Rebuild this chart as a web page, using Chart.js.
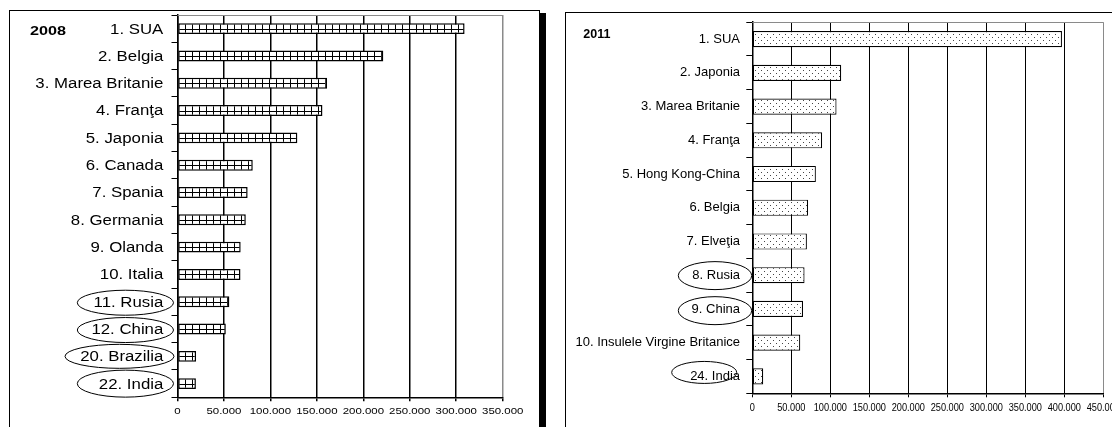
<!DOCTYPE html>
<html><head><meta charset="utf-8">
<script src="https://cdn.jsdelivr.net/npm/chart.js@4.4.1/dist/chart.umd.min.js"></script>
<style>
html,body{margin:0;padding:0;background:#fff;overflow:hidden;width:1112px;height:427px;}
.frame{position:absolute;border:1px solid #000;background:#fff;}
#f1{left:9px;top:10px;width:529px;height:440px;box-shadow:6px 3px 0 #000;}
#f2{left:565px;top:12px;width:580px;height:440px;}
canvas{position:absolute;}
</style></head><body>
<div class="frame" id="f1"></div>
<div class="frame" id="f2"></div>
<canvas id="c1" width="528" height="416" style="left:10px;top:11px"></canvas>
<canvas id="c2" width="546" height="414" style="left:566px;top:13px"></canvas>
<script>
// ---------- DATA ----------
const categories2008 = ['1. SUA','2. Belgia','3. Marea Britanie','4. Franţa','5. Japonia','6. Canada','7. Spania','8. Germania','9. Olanda','10. Italia','11. Rusia','12. China','20. Brazilia','22. India'];
const values2008 = [309000,221500,161000,156000,129000,81000,75500,73500,68000,67800,55800,52000,20000,19800];
const circled2008 = ['11. Rusia','12. China','20. Brazilia','22. India'];
const tickValues2008 = [0,50000,100000,150000,200000,250000,300000,350000];
const tickLabels2008 = ['0','50.000','100.000','150.000','200.000','250.000','300.000','350.000'];

const categories2011 = ['1. SUA','2. Japonia','3. Marea Britanie','4. Franţa','5. Hong Kong-China','6. Belgia','7. Elveţia','8. Rusia','9. China','10. Insulele Virgine Britanice','24. India'];
const values2011 = [397000,114000,108000,89500,81500,71500,70000,67000,65000,61500,14000];
const circled2011 = ['8. Rusia','9. China','24. India'];
const tickValues2011 = [0,50000,100000,150000,200000,250000,300000,350000,400000,450000];
const tickLabels2011 = ['0','50.000','100.000','150.000','200.000','250.000','300.000','350.000','400.000','450.000'];

// ---------- helpers ----------
function stretchText(c, text, x, y, align, sx){
  c.save(); c.translate(x, y); c.scale(sx, 1); c.textAlign = align; c.fillText(text, 0, 0); c.restore();
}
function gridPatternFor(chart, cy){
  const t = document.createElement('canvas'); t.width = 7; t.height = 40;
  const g = t.getContext('2d');
  g.fillStyle = '#fff'; g.fillRect(0,0,7,40);
  g.fillStyle = '#000'; g.fillRect(0,0,1,40); g.fillRect(0,0,7,1);
  const p = chart.ctx.createPattern(t, 'repeat');
  p.setTransform(new DOMMatrix([1,0,0,1,0,Math.round(cy)]));
  return p;
}
function dotPattern(chart){
  const t = document.createElement('canvas'); t.width = 6; t.height = 6;
  const g = t.getContext('2d');
  g.fillStyle = '#fff'; g.fillRect(0,0,6,6);
  g.fillStyle = '#444'; g.fillRect(0,0,1,1); g.fillRect(3,3,1,1);
  return chart.ctx.createPattern(t, 'repeat');
}

const textPlugin = {
  id: 'texts',
  beforeDatasetsDraw(chart){
    const a = chart.chartArea, c = chart.ctx;
    c.save(); c.strokeStyle = '#8a8a8a'; c.lineWidth = 1;
    c.beginPath(); c.moveTo(a.left, Math.round(a.top)+0.5); c.lineTo(a.right, Math.round(a.top)+0.5); c.stroke();
    c.restore();
  },
  afterDraw(chart, args, o){
    const c = chart.ctx, xs = chart.scales.x, ys = chart.scales.y;
    const labels = chart.data.labels;
    c.save(); c.fillStyle = '#000'; c.textBaseline = 'middle';
    c.font = o.labelFont;
    labels.forEach((lab, i) => {
      stretchText(c, lab, chart.chartArea.left - o.labelGap, ys.getPixelForValue(i) + o.labelDy, 'right', o.sx);
    });
    c.font = o.tickFont;
    o.tickValues.forEach((v, i) => {
      stretchText(c, o.tickLabels[i], xs.getPixelForValue(v), chart.chartArea.bottom + o.tickDy, 'center', o.tickSx);
    });
    c.font = o.titleFont;
    stretchText(c, o.title, o.titleX, o.titleY, 'left', o.titleSx);
    c.strokeStyle = '#000'; c.lineWidth = 1;
    o.ellipses.forEach(e => {
      const i = labels.indexOf(e.label);
      const cy = ys.getPixelForValue(i) + e.dy;
      const x1 = chart.chartArea.left + e.x1, x2 = chart.chartArea.left + e.x2;
      c.beginPath(); c.ellipse((x1+x2)/2, cy, (x2-x1)/2, e.h/2, 0, 0, Math.PI*2); c.stroke();
    });
    c.restore();
  }
};

function makeChart(id, labels, values, cfg){
  const el = document.getElementById(id);
  const W = el.width, H = el.height, axisH = 25;
  return new Chart(el, {
    type: 'bar',
    data: { labels: labels, datasets: [{
      data: values,
      backgroundColor: cfg.fill,
      borderColor: '#000', borderWidth: cfg.barBorder, borderSkipped: false,
      categoryPercentage: 1, barPercentage: cfg.barPct
    }]},
    options: {
      indexAxis: 'y', responsive: false, maintainAspectRatio: false, animation: false, events: [],
      layout: { padding: { left: 0, top: cfg.area.top, right: W - cfg.area.right, bottom: H - cfg.area.bottom - axisH } },
      plugins: { legend: { display: false }, tooltip: { enabled: false }, texts: cfg.texts },
      scales: {
        x: { type: 'linear', min: 0, max: cfg.max, position: 'bottom',
             ticks: { display: false, stepSize: cfg.step },
             grid: { color: (ctx) => (ctx.tick && ctx.tick.value === cfg.max) ? '#8a8a8a' : '#000',
                     lineWidth: cfg.gridW, drawTicks: true, tickLength: 4, tickColor: '#000' },
             border: { display: true, color: '#000', width: cfg.axisW },
             afterFit: (s) => { s.height = axisH; } },
        y: { type: 'category', offset: true,
             ticks: { display: false },
             grid: { drawOnChartArea: false, drawTicks: true, tickLength: 6, color: '#000', lineWidth: 1, offset: true },
             border: { display: true, color: '#000', width: cfg.axisW },
             afterFit: (s) => { s.width = cfg.area.left; } }
      }
    },
    plugins: [textPlugin]
  });
}

const FONT = '"Liberation Sans", Arial, sans-serif';

makeChart('c1', categories2008, values2008, {
  area: { left: 167.5, right: 492.7, top: 4, bottom: 386.3 },
  max: 350000, step: 50000, barPct: 0.4, barBorder: 1.5, gridW: 1.5, axisW: 1.5,
  fill: (ctx) => gridPatternFor(ctx.chart, ctx.chart.scales.y.getPixelForValue(ctx.dataIndex)),
  texts: {
    labelFont: '14px ' + FONT, sx: 1.2, labelGap: 14.2, labelDy: 1,
    tickFont: '9.3px ' + FONT, tickSx: 1.23, tickDy: 14.4,
    tickValues: tickValues2008, tickLabels: tickLabels2008,
    title: '2008', titleFont: 'bold 13.5px ' + FONT, titleX: 20, titleY: 20, titleSx: 1.2,
    ellipses: [
      { label: circled2008[0], x1: -100.2, x2: -4, dy: 1, h: 25 },
      { label: circled2008[1], x1: -100.2, x2: -4, dy: 1, h: 25 },
      { label: circled2008[2], x1: -112.5, x2: -3.5, dy: 0, h: 24 },
      { label: circled2008[3], x1: -100.2, x2: -4, dy: 0, h: 27 }
    ]
  }
});

makeChart('c2', categories2011, values2011, {
  area: { left: 186.3, right: 537.3, top: 9.2, bottom: 380.3 },
  max: 450000, step: 50000, barPct: 0.48, barBorder: 1.2, gridW: 1, axisW: 1.5,
  fill: (ctx) => dotPattern(ctx.chart),
  texts: {
    labelFont: '13px ' + FONT, sx: 1.0, labelGap: 12.3, labelDy: 0,
    tickFont: '10px ' + FONT, tickSx: 0.92, tickDy: 15,
    tickValues: tickValues2011, tickLabels: tickLabels2011,
    title: '2011', titleFont: 'bold 12.5px ' + FONT, titleX: 17.3, titleY: 21.7, titleSx: 1.0,
    ellipses: [
      { label: circled2011[0], x1: -74, x2: -0.6, dy: 0.4, h: 28 },
      { label: circled2011[1], x1: -74, x2: -0.6, dy: 1.7, h: 28 },
      { label: circled2011[2], x1: -80.6, x2: -15.6, dy: -4, h: 22 }
    ]
  }
});
</script>
</body></html>
